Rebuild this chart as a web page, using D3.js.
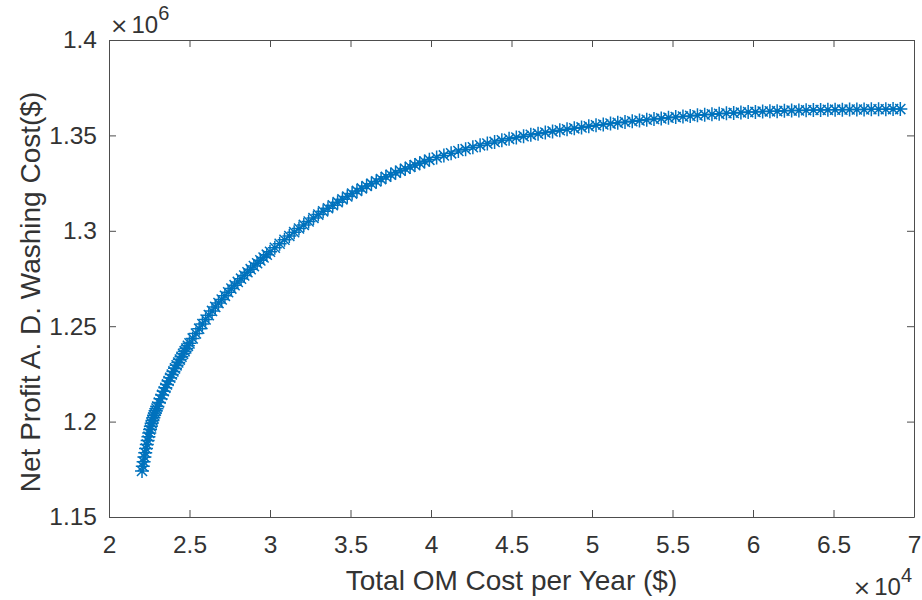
<!DOCTYPE html>
<html>
<head>
<meta charset="utf-8">
<script src="https://cdn.jsdelivr.net/npm/d3@7"></script>
<style>
  body { margin: 0; background: #fff; }
  svg { font-family: "Liberation Sans", Arial, sans-serif; }
  .axis text { fill: #333; font-size: 24.5px; }
  .axis path, .axis line { stroke: #4d4d4d; stroke-width: 1; }
</style>
</head>
<body>
<svg id="chart"></svg>
<script>
// Total OM cost per year, in units of 1e4 $
const omCost = [
  2.205, 2.210, 2.215, 2.220, 2.225, 2.230, 2.235, 2.240, 2.245, 2.250,
  2.255, 2.260, 2.265, 2.270, 2.275, 2.280, 2.285, 2.290, 2.295, 2.300,
  2.31, 2.32, 2.33, 2.34, 2.35, 2.36, 2.37, 2.38, 2.39, 2.40,
  2.41, 2.42, 2.43, 2.44, 2.45, 2.46, 2.47, 2.48, 2.49, 2.50,
  2.52, 2.54, 2.56, 2.58, 2.60, 2.62, 2.64, 2.66, 2.68, 2.70,
  2.72, 2.74, 2.76, 2.78, 2.80, 2.82, 2.84, 2.86, 2.88, 2.90,
  2.92, 2.94, 2.96, 2.98, 3.00,
  3.03, 3.06, 3.09, 3.12, 3.15, 3.18, 3.21, 3.24, 3.27, 3.30,
  3.33, 3.36, 3.39, 3.42, 3.45, 3.48, 3.51, 3.54, 3.57, 3.60,
  3.63, 3.66, 3.69, 3.72, 3.75, 3.78, 3.81, 3.84, 3.87, 3.90,
  3.93, 3.96, 3.99,
  4.035, 4.080, 4.125, 4.170, 4.215, 4.260, 4.305, 4.350, 4.395, 4.440,
  4.485, 4.530, 4.575, 4.620, 4.665, 4.710, 4.755, 4.800, 4.845, 4.890,
  4.935, 4.980, 5.025, 5.070, 5.115, 5.160, 5.205, 5.250, 5.295, 5.340,
  5.385, 5.430, 5.475, 5.520, 5.565, 5.610, 5.655, 5.700, 5.745, 5.790,
  5.835, 5.880, 5.925, 5.970, 6.015, 6.060, 6.105, 6.150, 6.195, 6.240,
  6.285, 6.330, 6.375, 6.420, 6.465, 6.510, 6.555, 6.600, 6.645, 6.690,
  6.735, 6.780, 6.825, 6.870, 6.915
];

// Net profit after washing cost, in units of 1e6 $
const netProfit = [
  1.1741, 1.1766, 1.1790, 1.1814, 1.1837, 1.1859, 1.1880, 1.1901, 1.1921, 1.1940,
  1.1958, 1.1975, 1.1991, 1.2006, 1.2020, 1.2033, 1.2045, 1.2057, 1.2068, 1.2079,
  1.2100, 1.2120, 1.2140, 1.2159, 1.2177, 1.2195, 1.2213, 1.2230, 1.2247, 1.2263,
  1.2279, 1.2295, 1.2310, 1.2325, 1.2340, 1.2355, 1.2369, 1.2383, 1.2397, 1.2410,
  1.2436, 1.2462, 1.2487, 1.2511, 1.2535, 1.2558, 1.2580, 1.2601, 1.2621, 1.2640,
  1.2659, 1.2678, 1.2697, 1.2715, 1.2732, 1.2749, 1.2766, 1.2783, 1.2799, 1.2815,
  1.2830, 1.2845, 1.2860, 1.2875, 1.2890,
  1.2911, 1.2932, 1.2953, 1.2973, 1.2993, 1.3012, 1.3031, 1.3049, 1.3067, 1.3085,
  1.3102, 1.3118, 1.3134, 1.3150, 1.3165, 1.3180, 1.3195, 1.3209, 1.3222, 1.3235,
  1.3247, 1.3259, 1.3271, 1.3283, 1.3294, 1.3305, 1.3315, 1.3325, 1.3335, 1.3345,
  1.3354, 1.3363, 1.3372,
  1.3384, 1.3395, 1.3406, 1.3418, 1.3428, 1.3438, 1.3448, 1.3457, 1.3466, 1.3474,
  1.3482, 1.3489, 1.3496, 1.3503, 1.3509, 1.3515, 1.3521, 1.3527, 1.3532, 1.3537,
  1.3542, 1.3548, 1.3553, 1.3557, 1.3562, 1.3566, 1.3570, 1.3574, 1.3578, 1.3582,
  1.3586, 1.3589, 1.3593, 1.3596, 1.3599, 1.3602, 1.3605, 1.3608, 1.3611, 1.3613,
  1.3616, 1.3618, 1.3620, 1.3622, 1.3623, 1.3625, 1.3626, 1.3627, 1.3629, 1.3630,
  1.3631, 1.3632, 1.3633, 1.3633, 1.3634, 1.3635, 1.3635, 1.3636, 1.3636, 1.3636,
  1.3637, 1.3637, 1.3637, 1.3638, 1.3638
];

const xTicks = [2, 2.5, 3, 3.5, 4, 4.5, 5, 5.5, 6, 6.5, 7];
const yTicks = [1.15, 1.2, 1.25, 1.3, 1.35, 1.4];

const margin = { top: 40, right: 8, bottom: 83, left: 109 },
      width = 922 - margin.left - margin.right,
      height = 600 - margin.top - margin.bottom;

const svg = d3.select("#chart")
              .attr("width", 922)
              .attr("height", 600);

const g = svg.append("g")
             .attr("transform", `translate(${margin.left},${margin.top})`);

const x = d3.scaleLinear().domain([2, 7]).range([0, width]);
const y = d3.scaleLinear().domain([1.15, 1.4]).range([height, 0]);

const fmt = d => String(+d.toFixed(2));

// axes, ticks pointing inward on all four sides
g.append("g").attr("class", "axis")
 .attr("transform", `translate(0,${height})`)
 .call(d3.axisBottom(x).tickValues(xTicks).tickFormat(fmt)
        .tickSizeInner(-7).tickSizeOuter(0).tickPadding(19));

g.append("g").attr("class", "axis")
 .call(d3.axisTop(x).tickValues(xTicks).tickFormat("")
        .tickSizeInner(-7).tickSizeOuter(0));

g.append("g").attr("class", "axis")
 .call(d3.axisLeft(y).tickValues(yTicks).tickFormat(fmt)
        .tickSizeInner(-7).tickSizeOuter(0).tickPadding(12));

g.append("g").attr("class", "axis")
 .attr("transform", `translate(${width},0)`)
 .call(d3.axisRight(y).tickValues(yTicks).tickFormat("")
        .tickSizeInner(-7).tickSizeOuter(0));

// asterisk markers
const r = 7, rd = r * 0.72;
const star = `M${-r},0L${r},0M0,${-r}L0,${r}` +
             `M${-rd},${-rd}L${rd},${rd}M${-rd},${rd}L${rd},${-rd}`;

const pts = omCost.map((c, i) => ({ c: c, p: netProfit[i] }));

g.append("g")
 .selectAll("path")
 .data(pts)
 .enter().append("path")
 .attr("transform", d => `translate(${x(d.c)},${y(d.p)})`)
 .attr("d", star)
 .attr("fill", "none")
 .attr("stroke", "#0072BD")
 .attr("stroke-width", 1.5);

// axis labels
svg.append("text")
   .attr("x", margin.left + width / 2)
   .attr("y", 590)
   .attr("text-anchor", "middle")
   .attr("fill", "#333")
   .style("font-size", "28px")
   .text("Total OM Cost per Year ($)");

svg.append("text")
   .attr("transform", `translate(40,292) rotate(-90)`)
   .attr("text-anchor", "middle")
   .attr("fill", "#333")
   .style("font-size", "28px")
   .text("Net Profit A. D. Washing Cost($)");

// exponent multipliers
function expLabel(xPos, yPos, anchor, power) {
  const t = svg.append("text")
     .attr("x", xPos).attr("y", yPos)
     .attr("text-anchor", anchor)
     .attr("fill", "#333")
     .style("font-size", "24px");
  t.append("tspan").style("font-family", "DejaVu Sans").style("font-size", "22px")
   .text("\u00d7");
  t.append("tspan").attr("dx", 3).text("10");
  t.append("tspan").attr("dy", -13).style("font-size", "20px").text(power);
}
expLabel(110, 33, "start", "6");
expLabel(912, 595, "end", "4");
</script>
</body>
</html>
